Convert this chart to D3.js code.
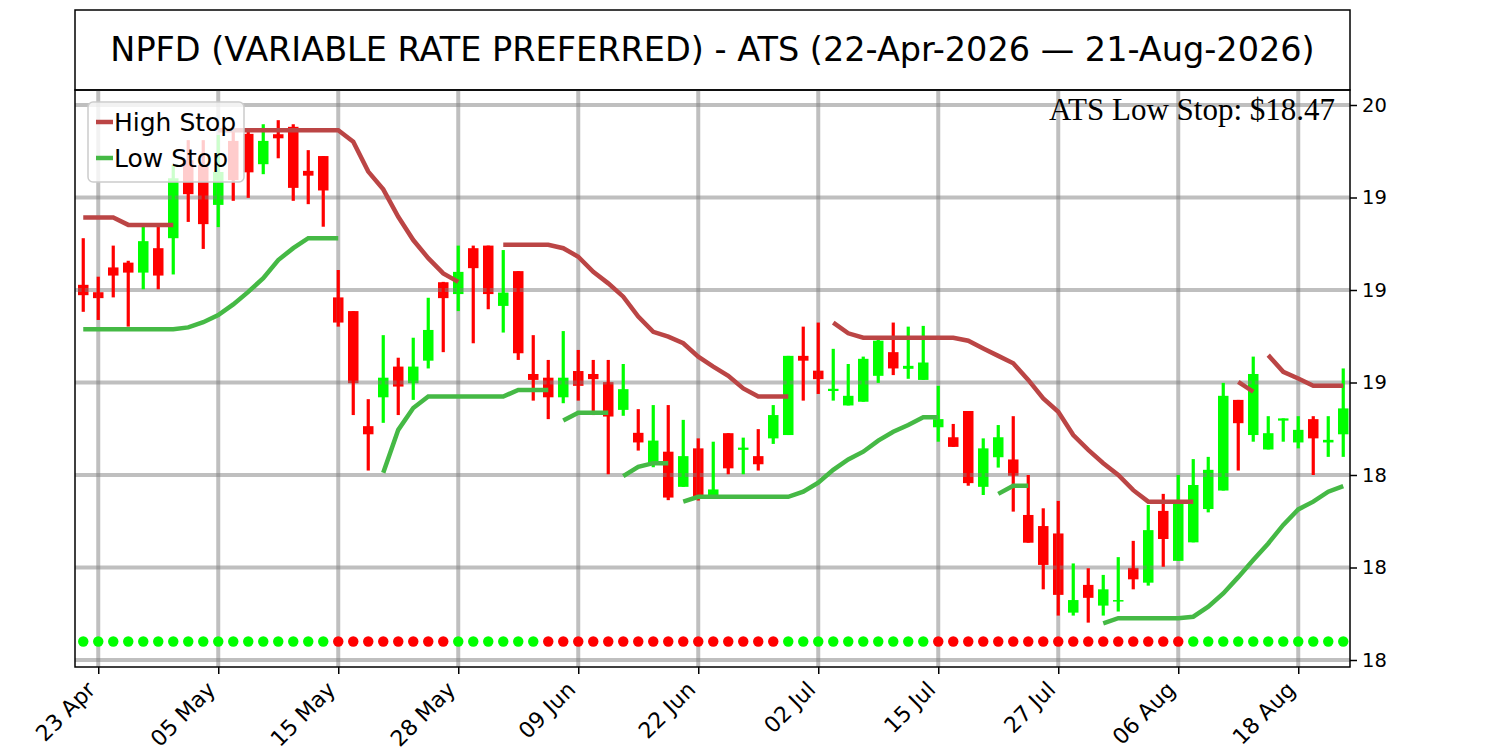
<!DOCTYPE html>
<meta charset="utf-8">
<script src="https://d3js.org/d3.v7.min.js"></script>
<style>
  body { margin: 0; background: #fff; }
  text { font-family: "DejaVu Sans", sans-serif; }
</style>
<div id="chart"></div>
<script>

// trading days shown on the chart
var dates = [
  "2026-04-22","2026-04-23","2026-04-24","2026-04-27","2026-04-28","2026-04-29","2026-04-30",
  "2026-05-01","2026-05-04","2026-05-05","2026-05-06","2026-05-07","2026-05-08",
  "2026-05-11","2026-05-12","2026-05-13","2026-05-14","2026-05-15",
  "2026-05-18","2026-05-19","2026-05-20","2026-05-21","2026-05-22",
  "2026-05-26","2026-05-27","2026-05-28","2026-05-29",
  "2026-06-01","2026-06-02","2026-06-03","2026-06-04","2026-06-05",
  "2026-06-08","2026-06-09","2026-06-10","2026-06-11","2026-06-12",
  "2026-06-15","2026-06-16","2026-06-17","2026-06-18",
  "2026-06-22","2026-06-23","2026-06-24","2026-06-25","2026-06-26",
  "2026-06-29","2026-06-30","2026-07-01","2026-07-02",
  "2026-07-06","2026-07-07","2026-07-08","2026-07-09","2026-07-10",
  "2026-07-13","2026-07-14","2026-07-15","2026-07-16","2026-07-17",
  "2026-07-20","2026-07-21","2026-07-22","2026-07-23","2026-07-24",
  "2026-07-27","2026-07-28","2026-07-29","2026-07-30","2026-07-31",
  "2026-08-03","2026-08-04","2026-08-05","2026-08-06","2026-08-07",
  "2026-08-10","2026-08-11","2026-08-12","2026-08-13","2026-08-14",
  "2026-08-17","2026-08-18","2026-08-19","2026-08-20","2026-08-21"
];

var open = [
  19.014,18.994,19.061,19.074,19.047,19.113,19.140,19.351,19.338,19.230,
  19.403,19.422,19.340,19.421,19.441,19.322,19.362,18.980,18.943,18.632,
  18.710,18.793,18.748,18.809,19.021,18.989,19.113,19.120,18.957,19.051,
  18.773,18.763,18.710,18.781,18.773,18.751,18.676,18.614,18.532,18.563,
  18.468,18.572,18.443,18.613,18.568,18.551,18.599,18.608,18.822,18.782,
  18.727,18.688,18.698,18.768,18.832,18.787,18.757,18.629,18.602,18.673,
  18.468,18.548,18.542,18.392,18.362,18.342,18.128,18.203,18.147,18.158,
  18.249,18.209,18.403,18.268,18.318,18.408,18.458,18.703,18.608,18.569,
  18.647,18.588,18.651,18.588,18.610
];
var high = [
  19.140,19.036,19.120,19.079,19.180,19.176,19.338,19.405,19.405,19.419,
  19.432,19.430,19.448,19.459,19.448,19.378,19.362,19.054,18.943,18.705,
  18.878,18.817,18.871,18.979,19.022,19.120,19.120,19.120,19.108,19.051,
  18.878,18.811,18.889,18.838,18.811,18.811,18.800,18.678,18.689,18.689,
  18.649,18.599,18.590,18.613,18.601,18.624,18.689,18.822,18.901,18.912,
  18.841,18.800,18.820,18.871,18.912,18.901,18.903,18.741,18.638,18.673,
  18.599,18.635,18.659,18.500,18.410,18.430,18.261,18.248,18.230,18.278,
  18.322,18.419,18.449,18.500,18.543,18.549,18.749,18.703,18.820,18.659,
  18.653,18.659,18.659,18.659,18.788
];
var low = [
  18.941,18.919,18.980,18.901,19.002,19.002,19.042,19.184,19.111,19.170,
  19.241,19.249,19.313,19.356,19.241,19.232,19.171,18.901,18.662,18.512,
  18.641,18.662,18.703,18.788,18.832,18.943,18.856,18.948,18.885,18.811,
  18.701,18.651,18.694,18.701,18.662,18.502,18.660,18.566,18.521,18.432,
  18.468,18.431,18.441,18.502,18.502,18.512,18.584,18.608,18.701,18.719,
  18.701,18.688,18.698,18.749,18.770,18.760,18.757,18.590,18.576,18.471,
  18.446,18.520,18.401,18.317,18.191,18.120,18.120,18.101,18.120,18.131,
  18.191,18.201,18.252,18.268,18.318,18.399,18.458,18.512,18.590,18.569,
  18.590,18.572,18.500,18.549,18.549
];
var close = [
  18.986,18.978,19.039,19.047,19.132,19.039,19.302,19.259,19.178,19.319,
  19.297,19.318,19.403,19.410,19.276,19.309,19.269,18.912,18.748,18.610,
  18.763,18.739,18.793,18.892,18.978,19.049,19.059,18.989,18.993,18.829,
  18.757,18.710,18.763,18.741,18.759,18.658,18.732,18.588,18.593,18.439,
  18.551,18.441,18.461,18.518,18.574,18.529,18.662,18.822,18.809,18.759,
  18.733,18.714,18.814,18.863,18.788,18.795,18.804,18.651,18.576,18.478,
  18.572,18.602,18.498,18.317,18.257,18.176,18.162,18.168,18.191,18.162,
  18.218,18.351,18.327,18.424,18.473,18.514,18.714,18.640,18.773,18.613,
  18.653,18.622,18.599,18.595,18.680
];

// stop lines (null = not drawn); a break index starts a new piece
var highStop = [
  19.196,19.196,19.196,19.176,19.176,19.176,19.176,null,null,19.432,
  19.432,19.432,19.432,19.432,19.432,19.432,19.432,19.432,19.401,19.320,
  19.272,19.198,19.135,19.086,19.045,19.022,null,null,19.122,19.122,
  19.122,19.122,19.113,19.090,19.049,19.018,18.982,18.928,18.887,18.874,
  18.856,18.820,18.793,18.768,18.734,18.712,18.712,18.712,null,null,
  18.912,18.883,18.871,18.871,18.871,18.871,18.871,18.871,18.871,18.863,
  18.842,18.822,18.802,18.757,18.707,18.671,18.608,18.568,18.532,18.500,
  18.459,18.428,18.428,18.428,18.428,null,null,18.752,18.725,18.824,
  18.779,18.761,18.741,18.741,18.741
];
var highStopBreaks = [79];

var lowStop = [
  18.894,18.894,18.894,18.894,18.894,18.894,18.894,18.899,18.913,18.932,
  18.961,18.995,19.032,19.081,19.113,19.140,19.140,19.140,null,null,
  18.506,18.622,18.681,18.712,18.712,18.712,18.712,18.712,18.712,18.730,
  18.730,18.730,18.647,18.668,18.668,18.668,18.497,18.522,18.532,18.532,
  18.428,18.441,18.441,18.441,18.441,18.441,18.441,18.441,18.455,18.479,
  18.514,18.542,18.563,18.593,18.617,18.635,18.656,18.656,null,null,
  null,18.449,18.471,18.471,null,null,null,null,18.099,18.113,
  18.113,18.113,18.113,18.113,18.117,18.144,18.180,18.224,18.270,18.315,
  18.365,18.407,18.428,18.455,18.470
];
var lowStopBreaks = [32, 36, 40];

// trend dots along the bottom: 1 = up (green), 0 = down (red)
var trend = [
  1,1,1,1,1,1,1,1,1,1,1,1,1,1,1,1,1,
  0,0,0,0,0,0,0,0,
  1,1,1,1,1,1,
  0,0,0,0,0,0,0,0,0,0,0,0,0,0,0,0,
  1,1,1,1,1,1,1,1,1,1,
  0,0,0,0,0,0,0,0,0,0,0,0,0,0,0,0,0,
  1,1,1,1,1,1,1,1,1,1,1
];
var dotLevel = 18.05;

var xTickDates = ["2026-04-23","2026-05-05","2026-05-15","2026-05-28","2026-06-09","2026-06-22",
                  "2026-07-02","2026-07-15","2026-07-27","2026-08-06","2026-08-18"];
var yTickValues = [18, 18.25, 18.5, 18.75, 19, 19.25, 19.5];
var yTickLabels = ["18", "18", "18", "19", "19", "19", "20"];

var title = "NPFD (VARIABLE RATE PREFERRED) - ATS (22-Apr-2026 \u2014 21-Aug-2026)";
var stopLabel = "ATS Low Stop: $18.47";

// layout
var W = 1500, H = 750;
var plot = {left: 75, right: 1350, top: 90, bottom: 667};

var svg = d3.select("#chart").append("svg")
    .attr("width", W)
    .attr("height", H);

// title box
svg.append("rect")
    .attr("x", plot.left).attr("y", 10)
    .attr("width", plot.right - plot.left).attr("height", plot.top - 10)
    .attr("fill", "none").attr("stroke", "#000").attr("stroke-width", 1.5);
svg.append("text")
    .attr("x", (plot.left + plot.right) / 2).attr("y", 61)
    .attr("text-anchor", "middle")
    .style("font-size", "33.5px")
    .text(title);

var x = d3.scaleLinear()
    .domain([-0.55, dates.length - 0.55])
    .range([plot.left, plot.right]);
var y = d3.scaleLinear()
    .domain([18, 19.5])
    .range([660, 105]);

svg.append("clipPath").attr("id", "clip")
  .append("rect")
    .attr("x", plot.left).attr("y", plot.top)
    .attr("width", plot.right - plot.left).attr("height", plot.bottom - plot.top);

var g = svg.append("g").attr("clip-path", "url(#clip)");

var candleIdx = d3.range(dates.length);
var up = function(i) { return close[i] >= open[i]; };
var bodyW = 10.5;

// candle bodies
g.append("g").selectAll("rect")
  .data(candleIdx)
  .enter().append("rect")
    .attr("x", function(i) { return x(i) - bodyW / 2; })
    .attr("y", function(i) { return y(Math.max(open[i], close[i])); })
    .attr("width", bodyW)
    .attr("height", function(i) { return Math.max(1.5, Math.abs(y(open[i]) - y(close[i]))); })
    .attr("fill", function(i) { return up(i) ? "#00ff00" : "#ff0000"; });

// grid
var xTickIdx = xTickDates.map(function(d) { return dates.indexOf(d); });
g.append("g").selectAll("line")
  .data(xTickIdx)
  .enter().append("line")
    .attr("x1", function(i) { return x(i); }).attr("x2", function(i) { return x(i); })
    .attr("y1", plot.top).attr("y2", plot.bottom)
    .attr("stroke", "#808080").attr("stroke-opacity", 0.5).attr("stroke-width", 4);
g.append("g").selectAll("line")
  .data(yTickValues)
  .enter().append("line")
    .attr("x1", plot.left).attr("x2", plot.right)
    .attr("y1", function(d) { return y(d); }).attr("y2", function(d) { return y(d); })
    .attr("stroke", "#808080").attr("stroke-opacity", 0.5).attr("stroke-width", 4);

// wicks
g.append("g").selectAll("line")
  .data(candleIdx)
  .enter().append("line")
    .attr("x1", function(i) { return x(i); }).attr("x2", function(i) { return x(i); })
    .attr("y1", function(i) { return y(high[i]); })
    .attr("y2", function(i) { return y(low[i]); })
    .attr("stroke", function(i) { return up(i) ? "#00ff00" : "#ff0000"; })
    .attr("stroke-width", 3.2);

// stop lines, split into pieces at nulls and break points
function pieces(values, breaks) {
  var out = [], cur = [];
  values.forEach(function(v, i) {
    if (v === null || breaks.indexOf(i) >= 0) {
      if (cur.length) out.push(cur);
      cur = [];
    }
    if (v !== null) cur.push([i, v]);
  });
  if (cur.length) out.push(cur);
  return out;
}
var line = d3.line()
    .x(function(d) { return x(d[0]); })
    .y(function(d) { return y(d[1]); });

var highColor = "#bb4545", lowColor = "#45b945";
g.append("g").selectAll("path")
  .data(pieces(highStop, highStopBreaks))
  .enter().append("path")
    .attr("d", line)
    .attr("fill", "none").attr("stroke", highColor).attr("stroke-width", 4.5);
g.append("g").selectAll("path")
  .data(pieces(lowStop, lowStopBreaks))
  .enter().append("path")
    .attr("d", line)
    .attr("fill", "none").attr("stroke", lowColor).attr("stroke-width", 4.5);

// trend dots
g.append("g").selectAll("circle")
  .data(candleIdx)
  .enter().append("circle")
    .attr("cx", function(i) { return x(i); })
    .attr("cy", y(dotLevel))
    .attr("r", 5.2)
    .attr("fill", function(i) { return trend[i] ? "#00ff00" : "#ff0000"; });

// stop label
svg.append("text")
    .attr("x", 1335).attr("y", 120)
    .attr("text-anchor", "end")
    .style("font-family", "'Liberation Serif', 'Times New Roman', serif")
    .style("font-size", "31px")
    .text(stopLabel);

// frame
svg.append("rect")
    .attr("x", plot.left).attr("y", plot.top)
    .attr("width", plot.right - plot.left).attr("height", plot.bottom - plot.top)
    .attr("fill", "none").attr("stroke", "#000").attr("stroke-width", 1.5);

// axes
var fmt = d3.timeFormat("%d %b"), parse = d3.timeParse("%Y-%m-%d");
var xAxis = svg.append("g")
    .attr("transform", "translate(0," + plot.bottom + ")")
    .call(d3.axisBottom(x)
      .tickValues(xTickIdx)
      .tickSize(7)
      .tickSizeOuter(0)
      .tickFormat(function(i) { return fmt(parse(dates[i])); }));
xAxis.select(".domain").remove();
xAxis.selectAll(".tick line").attr("stroke-width", 1.5);
xAxis.selectAll("text")
    .attr("x", 0).attr("y", 0).attr("dy", 0)
    .attr("text-anchor", "end")
    .attr("transform", "translate(-2,24) rotate(-45)")
    .style("font-size", "22px")
    .attr("fill", "#000");

var yAxis = svg.append("g")
    .attr("transform", "translate(" + plot.right + ",0)")
    .call(d3.axisRight(y)
      .tickValues(yTickValues)
      .tickSize(7)
      .tickPadding(5)
      .tickFormat(function(d, i) { return yTickLabels[i]; }));
yAxis.select(".domain").remove();
yAxis.selectAll(".tick line").attr("stroke-width", 1.5);
yAxis.selectAll("text").style("font-size", "19.5px").attr("fill", "#000");

// legend
var legend = svg.append("g");
legend.append("rect")
    .attr("x", 88).attr("y", 102).attr("width", 156).attr("height", 80)
    .attr("rx", 5)
    .attr("fill", "#fff").attr("fill-opacity", 0.8)
    .attr("stroke", "#cccccc").attr("stroke-width", 1.5);
var entries = [{name: "High Stop", color: highColor, y: 122},
               {name: "Low Stop", color: lowColor, y: 158}];
entries.forEach(function(e) {
  legend.append("line")
      .attr("x1", 96).attr("x2", 113)
      .attr("y1", e.y).attr("y2", e.y)
      .attr("stroke", e.color).attr("stroke-width", 4.5);
  legend.append("text")
      .attr("x", 114).attr("y", e.y + 9)
      .style("font-size", "25px")
      .text(e.name);
});

</script>
